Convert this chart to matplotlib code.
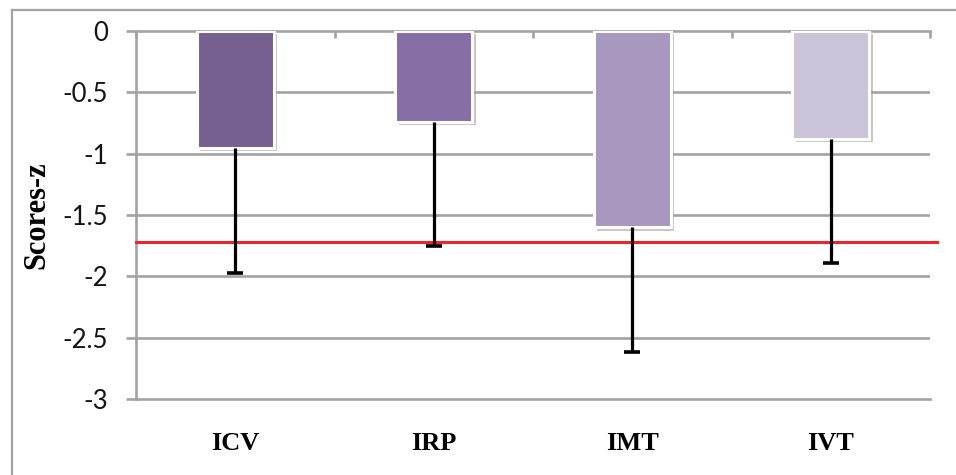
import matplotlib
matplotlib.use("Agg")
import matplotlib.pyplot as plt
import matplotlib.patheffects as pe
from matplotlib.lines import Line2D
import numpy as np

# mean z-scores per index, lower error (SD) and the cut-off line
categories = ['ICV', 'IRP', 'IMT', 'IVT']
scores = [-0.95, -0.74, -1.60, -0.88]
sd_low = [1.02, 1.01, 1.02, 1.01]
cutoff = -1.72
bar_colors = ['#76608f', '#876ea6', '#a898c0', '#cbc3d8']

grey = '#a3a3a3'

fig = plt.figure(figsize=(9.56, 4.75), dpi=100)
fig.patch.set_facecolor('white')
ax = fig.add_axes([136 / 956, 1 - 399 / 475, 794 / 956, 368 / 475])

x = np.arange(len(categories))
bars = ax.bar(x, scores, width=0.39, color=bar_colors, edgecolor='white',
              linewidth=2.2, zorder=3)
for b in bars:
    b.set_path_effects([pe.SimplePatchShadow(offset=(2.5, -2.5), shadow_rgbFace='#9a9a9a', alpha=0.55),
                        pe.Normal()])

ax.axhline(cutoff, xmin=0, xmax=1.009, color='#e8262c', lw=2.2, clip_on=False, zorder=4)

# one-sided error bars: only the lower whisker with a cap
low_ends = np.array(scores) - np.array(sd_low)
ax.vlines(x, scores, low_ends, color='black', lw=2.3, zorder=5)
ax.plot(x, low_ends, linestyle='none', marker='_', markersize=12, markeredgewidth=2.6,
        color='black', zorder=5)

ax.set_xlim(-0.5, len(categories) - 0.5)
ax.set_ylim(-3, 0)
ax.set_yticks(np.arange(-3, 0.01, 0.5))
ax.set_yticklabels(['-3', '-2.5', '-2', '-1.5', '-1', '-0.5', '0'])
for yv in np.arange(-2.5, 0, 0.5):
    ax.axhline(yv, color=grey, lw=1.9, zorder=1)

ax.spines['right'].set_visible(False)
for side in ['left', 'top', 'bottom']:
    ax.spines[side].set_color(grey)
    ax.spines[side].set_linewidth(1.9)

ax.set_xticks(x)
ax.set_xticklabels(categories, fontfamily='Liberation Serif', fontweight='bold', fontsize=19)
ax.tick_params(axis='x', which='major', length=0, pad=24)
ax.set_xticks(np.arange(-0.5, len(categories)), minor=True)
ax.tick_params(axis='x', which='minor', top=True, bottom=False, direction='in',
               length=5, width=1.9, color=grey)

ax.tick_params(axis='y', length=7, width=1.9, color=grey, pad=13, labelsize=18.5,
               labelcolor='#141414')
for lab in ax.get_yticklabels():
    lab.set_fontfamily('Lato')

ax.set_ylabel('Scores-z', fontfamily='Liberation Serif', fontweight='bold', fontsize=22)
ax.yaxis.set_label_coords(-0.106, 0.5)

# outer chart frame, cut off on the right and at the bottom
fig.add_artist(Line2D([12 / 956, 12 / 956], [0, 1 - 10 / 475], color=grey, lw=1.6))
fig.add_artist(Line2D([12 / 956, 1], [1 - 10 / 475, 1 - 10 / 475], color=grey, lw=1.6))

fig.savefig('out.png', dpi=100)
